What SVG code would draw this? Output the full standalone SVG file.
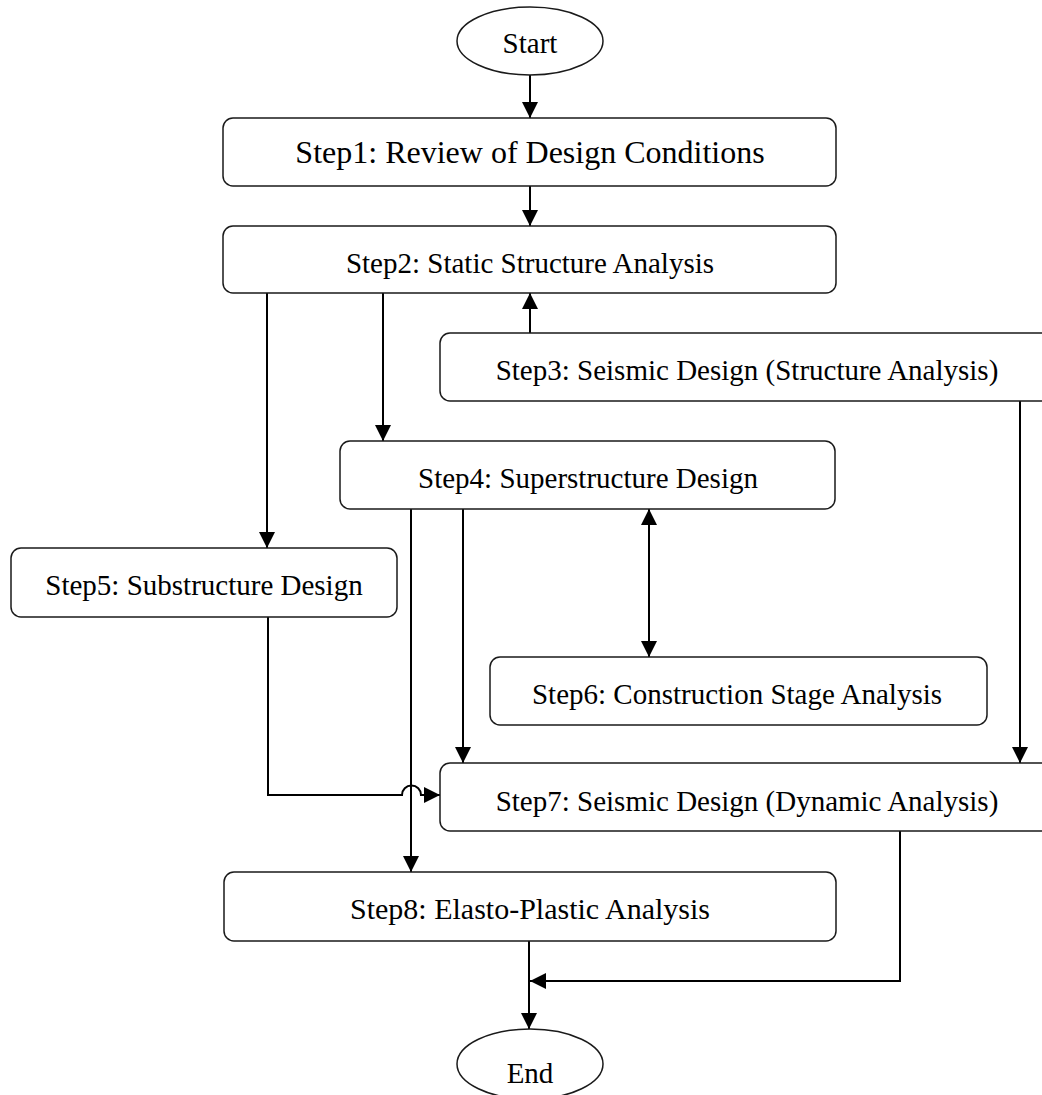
<svg xmlns="http://www.w3.org/2000/svg" width="1042" height="1095" viewBox="0 0 1042 1095">
  <defs>
    <style>
      .box { fill: #ffffff; stroke: #1a1a1a; stroke-width: 1.5; }
      .term { fill: #ffffff; stroke: #1a1a1a; stroke-width: 1.5; }
      .lbl { font-family: "Liberation Serif", "Times New Roman", serif; font-size: 29px; fill: #000000; text-anchor: middle; }
      .wire { fill: none; stroke: #000000; stroke-width: 2; }
    </style>
    <marker id="arrow" viewBox="0 0 16 16" refX="16" refY="8" markerWidth="16" markerHeight="16" markerUnits="userSpaceOnUse" orient="auto-start-reverse">
      <path d="M0,0 L16,8 L0,16 Z" fill="#000000"/>
    </marker>
  </defs>

  <rect width="1042" height="1095" fill="#ffffff"/>

  <!-- connectors -->
  <g id="connectors">
    <path class="wire" d="M530,75 V118" marker-end="url(#arrow)"/>
    <path class="wire" d="M530,186 V226" marker-end="url(#arrow)"/>
    <path class="wire" d="M267,293 V548" marker-end="url(#arrow)"/>
    <path class="wire" d="M383,293 V441" marker-end="url(#arrow)"/>
    <path class="wire" d="M530,333 V293" marker-end="url(#arrow)"/>
    <path class="wire" d="M1020,401 V763" marker-end="url(#arrow)"/>
    <path class="wire" d="M411,509 V872" marker-end="url(#arrow)"/>
    <path class="wire" d="M463,509 V763" marker-end="url(#arrow)"/>
    <path class="wire" d="M649,509 V657" marker-start="url(#arrow)" marker-end="url(#arrow)"/>
    <!-- Step5 to Step7, hopping over the Step4-Step8 line -->
    <path class="wire" d="M268,617 V795 H402 A9.5,9.5 0 0 1 421,795 H440" marker-end="url(#arrow)"/>
    <path class="wire" d="M900,831 V981 H530" marker-end="url(#arrow)"/>
    <path class="wire" d="M529,941 V1029" marker-end="url(#arrow)"/>
  </g>

  <g id="start">
    <ellipse class="term" cx="530" cy="41" rx="73" ry="34"/>
    <text class="lbl" x="530" y="53" font-size="30">Start</text>
  </g>

  <g id="step1">
    <rect class="box" x="223" y="118" width="613" height="68" rx="10"/>
    <text class="lbl" x="530" y="163" style="font-size:32px">Step1: Review of Design Conditions</text>
  </g>

  <g id="step2">
    <rect class="box" x="223" y="226" width="613" height="67" rx="10"/>
    <text class="lbl" x="530" y="273">Step2: Static Structure Analysis</text>
  </g>

  <g id="step3">
    <rect class="box" x="440" y="333" width="620" height="68" rx="10"/>
    <text class="lbl" x="747" y="380">Step3: Seismic Design (Structure Analysis)</text>
  </g>

  <g id="step4">
    <rect class="box" x="340" y="441" width="495" height="68" rx="10"/>
    <text class="lbl" x="588" y="488">Step4: Superstructure Design</text>
  </g>

  <g id="step5">
    <rect class="box" x="11" y="548" width="386" height="69" rx="10"/>
    <text class="lbl" x="204" y="595">Step5: Substructure Design</text>
  </g>

  <g id="step6">
    <rect class="box" x="490" y="657" width="497" height="68" rx="10"/>
    <text class="lbl" x="737" y="704">Step6: Construction Stage Analysis</text>
  </g>

  <g id="step7">
    <rect class="box" x="440" y="763" width="620" height="68" rx="10"/>
    <text class="lbl" x="747" y="811">Step7: Seismic Design (Dynamic Analysis)</text>
  </g>

  <g id="step8">
    <rect class="box" x="224" y="872" width="612" height="69" rx="10"/>
    <text class="lbl" x="530" y="919" style="font-size:30px">Step8: Elasto-Plastic Analysis</text>
  </g>

  <g id="end">
    <ellipse class="term" cx="530" cy="1064" rx="73" ry="35"/>
    <text class="lbl" x="530" y="1083" style="font-size:29px">End</text>
  </g>
</svg>
